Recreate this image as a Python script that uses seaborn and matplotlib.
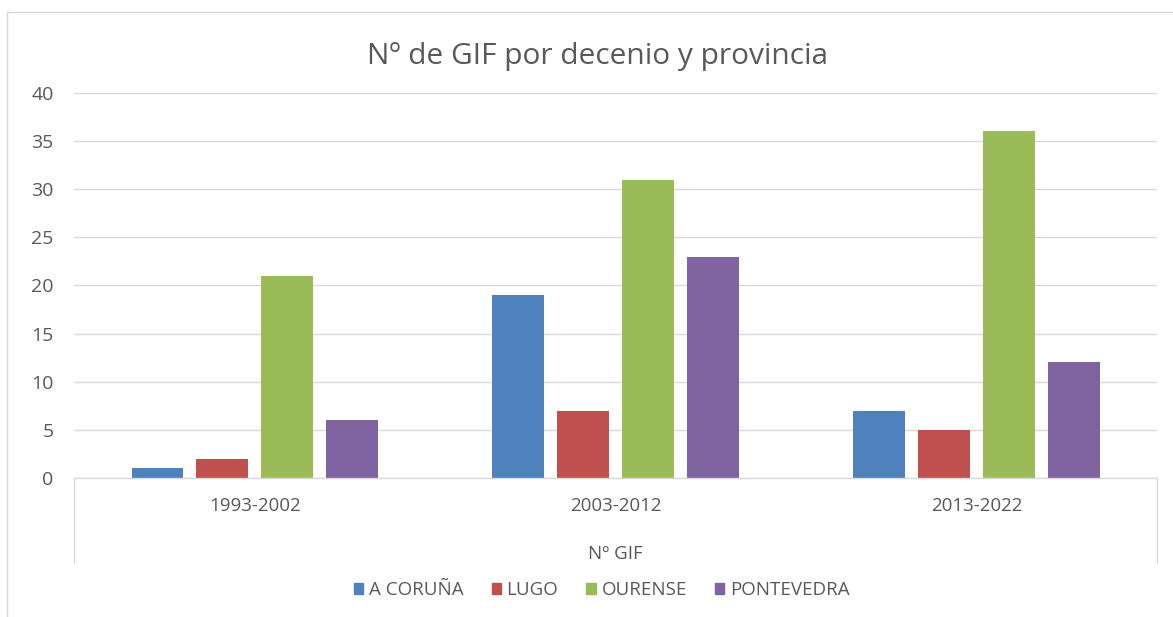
import numpy as np
import pandas as pd
import matplotlib
matplotlib.use("Agg")
import matplotlib.pyplot as plt
import seaborn as sns
from matplotlib.patches import Rectangle


# datos
DECENIOS = ["1993-2002", "2003-2012", "2013-2022"]
PROVINCIAS = ["A CORUÑA", "LUGO", "OURENSE", "PONTEVEDRA"]
A_CORUNA = [1, 19, 7]
LUGO = [2, 7, 5]
OURENSE = [21, 31, 36]
PONTEVEDRA = [6, 23, 12]

COLORES = ["#4F81BD", "#C0504D", "#9BBB59", "#8064A2"]
GRIS_TEXTO = "#595959"
GRIS_LINEA = "#D9D9D9"

tabla = pd.DataFrame(
    {
        "decenio": DECENIOS * 4,
        "provincia": np.repeat(PROVINCIAS, len(DECENIOS)),
        "gif": A_CORUNA + LUGO + OURENSE + PONTEVEDRA,
    }
)

sns.set_theme(style="white")
plt.rcParams["font.family"] = ["Open Sans", "DejaVu Sans"]

fig = plt.figure(figsize=(11.73, 6.17), dpi=100)
ax = fig.add_axes([0.0635, 0.2253, 0.9230, 0.6240])

sns.barplot(
    data=tabla,
    x="decenio",
    y="gif",
    hue="provincia",
    hue_order=PROVINCIAS,
    order=DECENIOS,
    palette=COLORES,
    width=0.72,
    gap=0.2,
    saturation=1,
    linewidth=0,
    legend=False,
    ax=ax,
)

ax.set_xlim(-0.5, 2.5)
ax.set_ylim(0, 40)
ax.set_yticks(range(0, 41, 5))
ax.yaxis.grid(True, color=GRIS_LINEA, linewidth=1)
ax.set_axisbelow(True)
for lado in ["top", "right", "left"]:
    ax.spines[lado].set_visible(False)
ax.spines["bottom"].set_color(GRIS_LINEA)
ax.spines["bottom"].set_linewidth(1)
ax.tick_params(axis="both", length=0, labelsize=13.5, labelcolor=GRIS_TEXTO)
ax.tick_params(axis="y", pad=15, labelsize=14)
ax.tick_params(axis="x", pad=13.5)
ax.set_ylabel("")
ax.set_xlabel("Nº GIF", fontsize=13.5, color=GRIS_TEXTO, labelpad=22)

# lineas verticales bajo el eje
for xpos in [0, 1]:
    ax.plot([xpos, xpos], [0, -0.22], transform=ax.transAxes, color=GRIS_LINEA,
            linewidth=1, clip_on=False)

ax.set_title("Nº de GIF por decenio y provincia", fontsize=21.5, color=GRIS_TEXTO,
             x=0.4835, pad=21)

# leyenda abajo
handles = [Rectangle((0, 0), 1, 1, color=c) for c in COLORES]
fig.legend(handles, PROVINCIAS, loc="center", bbox_to_anchor=(0.513, 0.043), ncol=4,
           frameon=False, fontsize=13.5, labelcolor=GRIS_TEXTO, handlelength=0.5,
           handleheight=0.5, handletextpad=0.3, columnspacing=1.5)

# marco del grafico
fig.add_artist(plt.Line2D([0.006, 1.0], [0.981, 0.981], color=GRIS_LINEA, linewidth=1))
fig.add_artist(plt.Line2D([0.006, 0.006], [0.0, 0.981], color=GRIS_LINEA, linewidth=1))

fig.savefig("out.png", dpi=100)
